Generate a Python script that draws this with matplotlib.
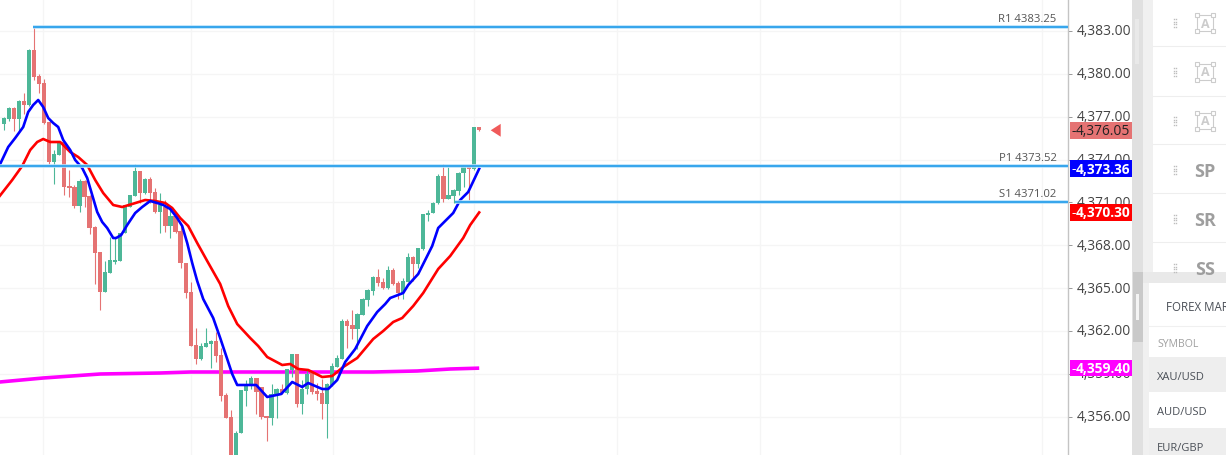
import matplotlib
matplotlib.use("Agg")
import matplotlib.pyplot as plt
from matplotlib.patches import Rectangle, Polygon
from matplotlib.ticker import FuncFormatter
from matplotlib.transforms import ScaledTranslation

plt.rcParams['font.family'] = ['Open Sans', 'DejaVu Sans']

opens = [4376.49,4376.84,4377.61,4376.84,4378.10,4377.82,4381.67,4379.85,4379.36,4376.63,
 4373.83,4374.32,4375.23,4372.15,4372.08,4370.75,4372.50,4371.45,4369.28,4367.53,
 4364.73,4366.06,4366.83,4366.90,4368.86,4370.68,4371.45,4373.20,4371.66,4372.64,
 4371.73,4370.33,4370.68,4369.35,4370.05,4369.00,4366.76,4364.73,4361.02,4360.04,
 4360.88,4361.09,4361.30,4360.32,4357.52,4355.98,4352.27,4354.86,4357.80,4358.15,
 4358.71,4358.08,4356.05,4355.91,4357.59,4357.94,4357.66,4359.27,4360.39,4356.89,
 4357.94,4359.13,4357.80,4357.66,4356.89,4358.22,4359.48,4360.04,4362.70,4362.42,
 4362.14,4363.12,4364.17,4364.80,4365.78,4365.43,4365.01,4366.27,4365.36,4364.66,
 4365.43,4367.18,4366.69,4367.74,4370.12,4370.26,4370.96,4372.85,4371.24,4371.45,
 4371.80,4373.06,4373.55,4373.34,4376.28]
closes = [4376.91,4377.61,4376.84,4378.10,4377.82,4381.67,4379.78,4379.29,4376.56,4373.83,
 4374.39,4375.16,4372.08,4372.01,4370.75,4372.50,4371.38,4369.21,4367.46,4364.73,
 4366.13,4366.97,4366.97,4368.86,4370.82,4371.52,4373.20,4371.66,4372.64,4371.66,
 4370.33,4370.82,4369.35,4370.05,4368.93,4366.76,4364.66,4360.95,4360.04,4360.95,
 4361.16,4361.30,4360.25,4357.45,4355.91,4352.27,4354.86,4357.87,4358.15,4358.71,
 4357.73,4355.98,4355.91,4357.59,4357.94,4357.66,4359.34,4360.39,4356.89,4357.94,
 4358.99,4357.73,4357.59,4356.89,4358.29,4359.55,4360.11,4362.70,4362.35,4362.14,
 4363.19,4364.24,4364.87,4365.78,4365.36,4365.01,4366.27,4365.29,4364.66,4365.50,
 4367.18,4366.69,4367.81,4370.19,4370.26,4370.96,4372.85,4371.24,4371.52,4371.87,
 4373.06,4373.55,4373.34,4376.28,4376.05]
highs = [4376.98,4377.68,4377.68,4378.17,4378.66,4381.74,4383.28,4379.99,4379.64,4376.63,
 4374.67,4375.30,4375.30,4373.27,4372.22,4372.64,4372.57,4371.52,4369.35,4367.53,
 4366.90,4368.58,4368.58,4368.86,4370.82,4371.52,4373.69,4373.20,4372.71,4372.78,
 4372.01,4371.66,4371.17,4370.68,4370.12,4369.42,4366.76,4365.43,4362.21,4361.16,
 4362.21,4361.37,4361.93,4360.81,4357.66,4356.47,4355.00,4357.87,4358.57,4358.85,
 4358.71,4358.08,4356.05,4358.29,4358.01,4358.29,4359.34,4360.39,4360.39,4358.57,
 4359.34,4359.20,4358.36,4358.64,4358.36,4359.76,4360.32,4362.84,4362.84,4363.47,
 4363.26,4364.31,4364.94,4365.85,4366.34,4365.71,4366.55,4366.41,4365.50,4365.71,
 4367.46,4367.25,4367.81,4370.19,4370.47,4371.03,4372.99,4373.69,4373.48,4371.94,
 4373.13,4373.55,4373.62,4376.28,4376.28]
lows = [4376.07,4376.70,4376.00,4376.00,4377.19,4377.75,4379.57,4378.66,4376.49,4373.69,
 4372.29,4374.32,4371.52,4371.38,4370.61,4370.33,4370.68,4368.79,4365.29,4363.47,
 4364.73,4366.06,4366.69,4366.90,4368.86,4370.68,4371.45,4370.96,4371.59,4370.96,
 4370.26,4368.86,4368.93,4368.51,4368.86,4366.41,4364.31,4360.95,4359.69,4359.97,
 4360.88,4359.41,4359.83,4357.10,4355.91,4352.13,4352.13,4354.86,4356.75,4357.94,
 4356.19,4355.84,4354.30,4355.42,4355.91,4357.59,4357.59,4358.78,4356.68,4356.19,
 4357.59,4357.59,4357.17,4355.84,4354.51,4358.15,4359.48,4360.04,4360.81,4361.44,
 4360.74,4363.12,4363.75,4364.52,4365.15,4364.94,4364.94,4365.22,4364.24,4364.24,
 4365.43,4365.50,4366.41,4367.67,4369.70,4370.26,4370.89,4371.03,4371.24,4370.96,
 4371.52,4372.08,4371.17,4373.27,4376.00]

blue_x = [-0.8,0.9,2.3,3.9,4.9,5.9,6.9,7.9,8.9,9.9,10.9,11.9,13.3,14.3,15.7,16.7,17.7,18.7,19.7,20.7,
 21.9,22.5,23.5,24.7,26.3,27.7,29.3,30.7,31.9,33.3,34.7,35.7,36.7,37.7,38.7,39.9,41.9,43.3,44.7,45.7,
 46.7,48.9,50.5,52.7,55.5,57.7,59.7,60.9,63.7,64.9,66.7,68.3,70.3,72.7,74.7,76.3,77.3,79.9,80.9,82.9,
 85.7,86.9,89.9,91.3,92.9,95.1]
blue_y = [4373.62,4374.88,4375.51,4376.28,4377.33,4377.82,4378.17,4377.68,4376.91,4376.56,4376.28,4375.37,
 4374.67,4373.97,4373.41,4372.71,4371.52,4370.33,4369.63,4369.21,4368.51,4368.51,4368.72,4369.42,4370.26,
 4370.68,4371.10,4370.96,4370.82,4370.54,4369.91,4369.35,4368.16,4366.76,4365.50,4364.24,4362.91,4361.51,
 4360.04,4358.99,4358.22,4358.22,4358.22,4357.38,4357.59,4358.43,4358.08,4358.36,4357.94,4357.94,4358.57,
 4359.83,4360.74,4362.35,4363.33,4363.89,4364.31,4364.66,4365.22,4365.99,4367.95,4369.21,4370.26,4371.17,
 4371.73,4373.36]
red_x = [-0.8,1.7,3.7,5.3,6.7,7.9,9.3,11.3,13.3,14.9,16.7,18.3,19.9,21.9,23.7,25.7,28.3,30.3,32.3,33.7,
 35.3,36.9,38.7,40.7,43.3,44.9,46.7,49.3,50.9,52.7,55.7,57.3,58.9,60.9,63.7,65.7,67.9,70.7,73.9,75.9,
 77.9,79.7,81.9,83.9,86.9,89.3,91.9,93.3,95.1]
red_y = [4371.45,4372.57,4373.55,4374.67,4375.23,4375.44,4375.23,4375.23,4374.53,4374.18,4373.62,4372.57,
 4371.66,4370.82,4370.68,4370.89,4371.17,4371.10,4370.96,4370.61,4369.91,4369.35,4368.16,4366.90,4365.29,
 4363.75,4362.49,4361.51,4360.95,4360.18,4359.62,4359.69,4359.34,4359.27,4358.78,4358.85,4359.48,4360.11,
 4361.44,4362.00,4362.63,4362.91,4363.75,4364.66,4366.34,4367.25,4368.51,4369.42,4370.30]
mag_x = [-0.8,7.9,19.3,31.3,37.3,49.3,73.9,82.7,89.3,95.1]
mag_y = [4358.43,4358.71,4358.99,4359.06,4359.13,4359.13,4359.13,4359.20,4359.34,4359.40]

levels = [("R1", 4383.25, 5.9), ("P1", 4373.52, -1.0), ("S1", 4371.02, 90.3)]
ticks = [4353 + 3*k for k in range(11)]
vgrid = [7.9, 37.4, 65.9, 94.0, 122.6, 151.3, 179.3, 207.7]
badges = [(4376.05, '#e57373', '#222222', 'normal'), (4373.36, '#0000ff', 'white', 'bold'),
          (4370.30, '#ff0000', 'white', 'bold'), (4359.40, '#ff00ff', 'white', 'bold')]

GREEN, RED = '#4db798', '#e57373'
BAR_STEP = 1.0108
W, H = 1226, 456
fig = plt.figure(figsize=(12.26, 4.56), dpi=100, facecolor='white')
ax = fig.add_axes([0, 0, 1068/W, 1])

ax.set_yticks(ticks)
ax.set_xticks(vgrid)
ax.set_xlim(-0.74, 212.86)
ax.set_ylim(4385.24 - 0.07*H, 4385.24)
ax.yaxis.tick_right()
ax.yaxis.set_major_formatter(FuncFormatter(lambda v, _: f"{v:,.2f}"))
ax.tick_params(axis='y', length=3, width=0.7, color='#999999', pad=3.6, labelsize=9.9, labelcolor='#444444')
ax.tick_params(axis='x', length=0, labelbottom=False)
ax.grid(True, color='#f5f5f5', lw=1.0)
ax.set_axisbelow(True)
for s in ('top', 'left', 'bottom'):
    ax.spines[s].set_visible(False)
ax.spines['right'].set_color('#c4c4c4')
ax.spines['right'].set_linewidth(1.0)
up = ScaledTranslation(0, 1.5/72, fig.dpi_scale_trans)
for lab in ax.get_yticklabels():
    lab.set_transform(lab.get_transform() + up)

ax.plot(mag_x, mag_y, color='#ff00ff', lw=2.6, zorder=2, solid_capstyle='butt')
for i, (o, h, l, c) in enumerate(zip(opens, highs, lows, closes)):
    col = GREEN if c >= o else RED
    xp = i * BAR_STEP
    ax.vlines(xp, l, h, color=col, lw=0.8, zorder=3)
    ax.bar(xp, abs(c - o), bottom=min(o, c), width=0.85, color=col, zorder=3, lw=0)

ax.plot(red_x, red_y, color='#ff0000', lw=1.9, zorder=4, solid_joinstyle='round')
ax.plot(blue_x, blue_y, color='#0000ff', lw=1.9, zorder=4.1, solid_joinstyle='round')

for name, val, start in levels:
    ax.plot([start, 212.86], [val, val], color='#b5e0fb', lw=2.6, zorder=4.2, solid_capstyle='butt')
    ax.plot([start, 212.86], [val, val], color='#1f9bea', lw=1.2, zorder=4.3, solid_capstyle='butt')
    ax.text(210.6, val + 0.63, f"{name} {val:.2f}", ha='right', va='center', fontsize=8.15, color='#555555', zorder=5)

ax.add_patch(Polygon([(97.4, 4376.05), (99.4, 4376.5), (99.4, 4375.6)], closed=True, color='#f05a5a', lw=0, zorder=5))

tr = ax.get_yaxis_transform()
for val, bg, fg, wt in badges:
    ax.add_patch(Rectangle((1070/1068, val - 0.58), 62/1068, 1.16, transform=tr, color=bg, lw=0, zorder=6, clip_on=False))
    ax.text(1071.5/1068, val, "-", transform=tr, ha='left', va='center', fontsize=9.9, color=fg, zorder=7, clip_on=False)
    ax.text(1076/1068, val, f"{val:,.2f}", transform=tr, ha='left', va='center', fontsize=9.9, color=fg,
            fontweight=wt, zorder=7, clip_on=False)

# surrounding interface, in pixel coordinates
ui = fig.add_axes([0, 0, 1, 1], facecolor='none', zorder=10)
ui.set_xlim(0, W)
ui.set_ylim(H, 0)
ui.axis('off')

def box(x0, y0, x1, y1, c):
    ui.add_patch(Rectangle((x0, y0), x1 - x0, y1 - y0, color=c, lw=0))

box(1132, 0, 1143, H, '#e0e0e0')
box(1135, 20, 1139, 65, '#e9e9e9')
box(1133, 273, 1143, 343, '#c9c9c9')
box(1136, 295, 1139, 321, '#f4f4f4')
box(1143, 0, 1153, 273, '#f0f0f0')
box(1143, 284, 1149, H, '#f0f0f0')
box(1149, 358, W, 393, '#eeeeee')
box(1149, 429, W, H, '#eeeeee')

for y in (47, 97, 145, 194, 243):
    ui.plot([1153, W], [y, y], color='#eeeeee', lw=0.8)
ui.plot([1149, W], [327, 327], color='#f0f0f0', lw=0.8)

for y in (24, 73, 122, 171, 220, 269):
    for dy in (-4, -1.5, 1, 3.5):
        for dx in (-1, 1):
            ui.plot(1175 + dx, y + dy, 's', ms=1.0, color='#bdbdbd', mew=0)
for y in (24, 73, 122):
    ui.add_patch(Rectangle((1197, y - 8), 16, 16, fill=False, ec='#cccccc', lw=0.8))
    for cx in (1197, 1213):
        for cy in (y - 8, y + 8):
            ui.add_patch(Rectangle((cx - 2, cy - 2), 4, 4, fc='white', ec='#cccccc', lw=0.8))
    ui.text(1205, y, "A", ha='center', va='center', fontsize=9, color='#cccccc', fontweight='bold')
for y, t in ((172, "SP"), (221, "SR"), (270, "SS")):
    ui.text(1205, y, t, ha='center', va='center', fontsize=13, color='#9e9e9e', fontweight='bold')
box(1143, 273, 1226, 284, '#e9e9e9')

ui.text(1166, 308, "FOREX MARKET", ha='left', va='center', fontsize=8.3, color='#4a4f57')
ui.text(1157, 345, "SYMBOL", ha='left', va='center', fontsize=7.6, color='#a0a0a0')
for y, t in ((378, "XAU/USD"), (413, "AUD/USD"), (449, "EUR/GBP")):
    ui.text(1157, y, t, ha='left', va='center', fontsize=8.0, color='#4a4f57')

fig.savefig('out.png', dpi=100)
